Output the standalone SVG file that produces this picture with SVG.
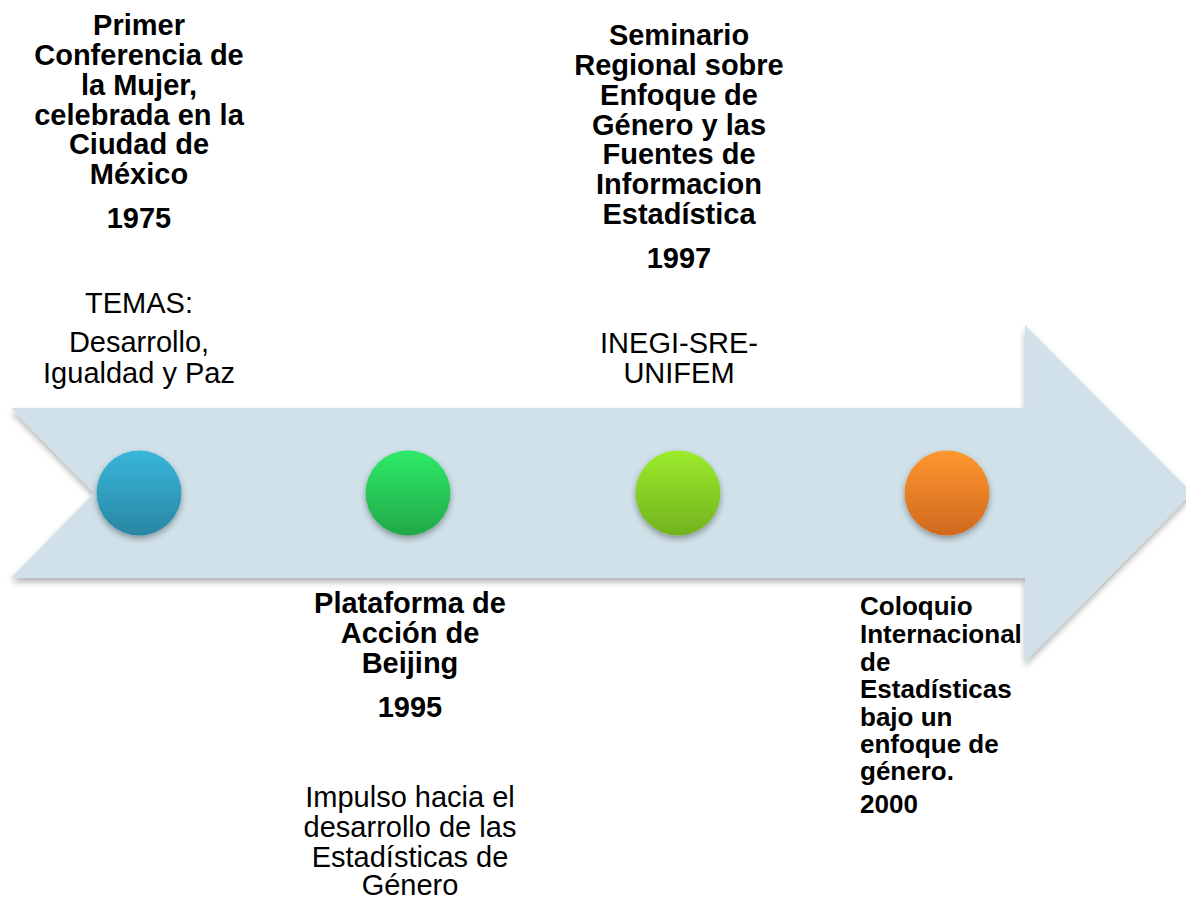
<svg xmlns="http://www.w3.org/2000/svg" width="1186" height="897" viewBox="0 0 1186 897">
<defs>
<filter id="sh" x="-10%" y="-10%" width="120%" height="130%">
<feDropShadow dx="0" dy="4" stdDeviation="3" flood-color="#000" flood-opacity="0.3"/>
</filter>
<filter id="csh" x="-30%" y="-30%" width="160%" height="170%">
<feDropShadow dx="0" dy="3" stdDeviation="3" flood-color="#000" flood-opacity="0.35"/>
</filter>
<linearGradient id="gBlue" x1="0" y1="0" x2="0" y2="1"><stop offset="0" stop-color="#38B6DA"/><stop offset="1" stop-color="#2A86A3"/></linearGradient>
<linearGradient id="gGreen" x1="0" y1="0" x2="0" y2="1"><stop offset="0" stop-color="#2EEA68"/><stop offset="1" stop-color="#22A848"/></linearGradient>
<linearGradient id="gLime" x1="0" y1="0" x2="0" y2="1"><stop offset="0" stop-color="#9CEC2C"/><stop offset="1" stop-color="#72B21E"/></linearGradient>
<linearGradient id="gOrange" x1="0" y1="0" x2="0" y2="1"><stop offset="0" stop-color="#FF9630"/><stop offset="1" stop-color="#D0691E"/></linearGradient>
</defs>
<style>
text{font-family:"Liberation Sans",Arial,sans-serif;fill:#000;}
.b{font-weight:bold;font-size:29px;text-anchor:middle;}
.r{font-size:29px;text-anchor:middle;}
.s{font-weight:bold;font-size:26px;}
.dot{filter:url(#csh);}
</style>
<g id="arrow">
<path d="M11,408 L1025,408 L1025,325 L1192,493 L1025,662 L1025,578 L11,578 L94,493 Z" fill="#D0E1E9" filter="url(#sh)"/>
</g>
<g id="connectors"></g>
<g id="n1975">
<circle class="dot" cx="139" cy="493" r="42.5" fill="url(#gBlue)"/>
<text class="b" x="139" y="35">Primer</text>
<text class="b" x="139" y="65">Conferencia de</text>
<text class="b" x="139" y="95">la Mujer,</text>
<text class="b" x="139" y="125">celebrada en la</text>
<text class="b" x="139" y="154">Ciudad de</text>
<text class="b" x="139" y="184">México</text>
<text class="b" x="139" y="228">1975</text>
<text class="r" x="139" y="313">TEMAS:</text>
<text class="r" x="139" y="352">Desarrollo,</text>
<text class="r" x="139" y="383">Igualdad y Paz</text>
</g>
<g id="n1995">
<circle class="dot" cx="408" cy="493" r="42.5" fill="url(#gGreen)"/>
<text class="b" x="410" y="613">Plataforma de</text>
<text class="b" x="410" y="643">Acción de</text>
<text class="b" x="410" y="673">Beijing</text>
<text class="b" x="410" y="717">1995</text>
<text class="r" x="410" y="807">Impulso hacia el</text>
<text class="r" x="410" y="837">desarrollo de las</text>
<text class="r" x="410" y="867">Estadísticas de</text>
<text class="r" x="410" y="895">Género</text>
</g>
<g id="n1997">
<circle class="dot" cx="678" cy="493" r="42.5" fill="url(#gLime)"/>
<text class="b" x="679" y="45">Seminario</text>
<text class="b" x="679" y="75">Regional sobre</text>
<text class="b" x="679" y="105">Enfoque de</text>
<text class="b" x="679" y="135">Género y las</text>
<text class="b" x="679" y="164">Fuentes de</text>
<text class="b" x="679" y="194">Informacion</text>
<text class="b" x="679" y="224">Estadística</text>
<text class="b" x="679" y="268">1997</text>
<text class="r" x="679" y="353">INEGI-SRE-</text>
<text class="r" x="679" y="383">UNIFEM</text>
</g>
<g id="n2000">
<circle class="dot" cx="947" cy="493" r="42.5" fill="url(#gOrange)"/>
<text class="s" x="860" y="615">Coloquio</text>
<text class="s" x="860" y="643">Internacional</text>
<text class="s" x="860" y="671">de</text>
<text class="s" x="860" y="698">Estadísticas</text>
<text class="s" x="860" y="726">bajo un</text>
<text class="s" x="860" y="753">enfoque de</text>
<text class="s" x="860" y="780">género.</text>
<text class="s" x="860" y="813">2000</text>
</g>
</svg>
